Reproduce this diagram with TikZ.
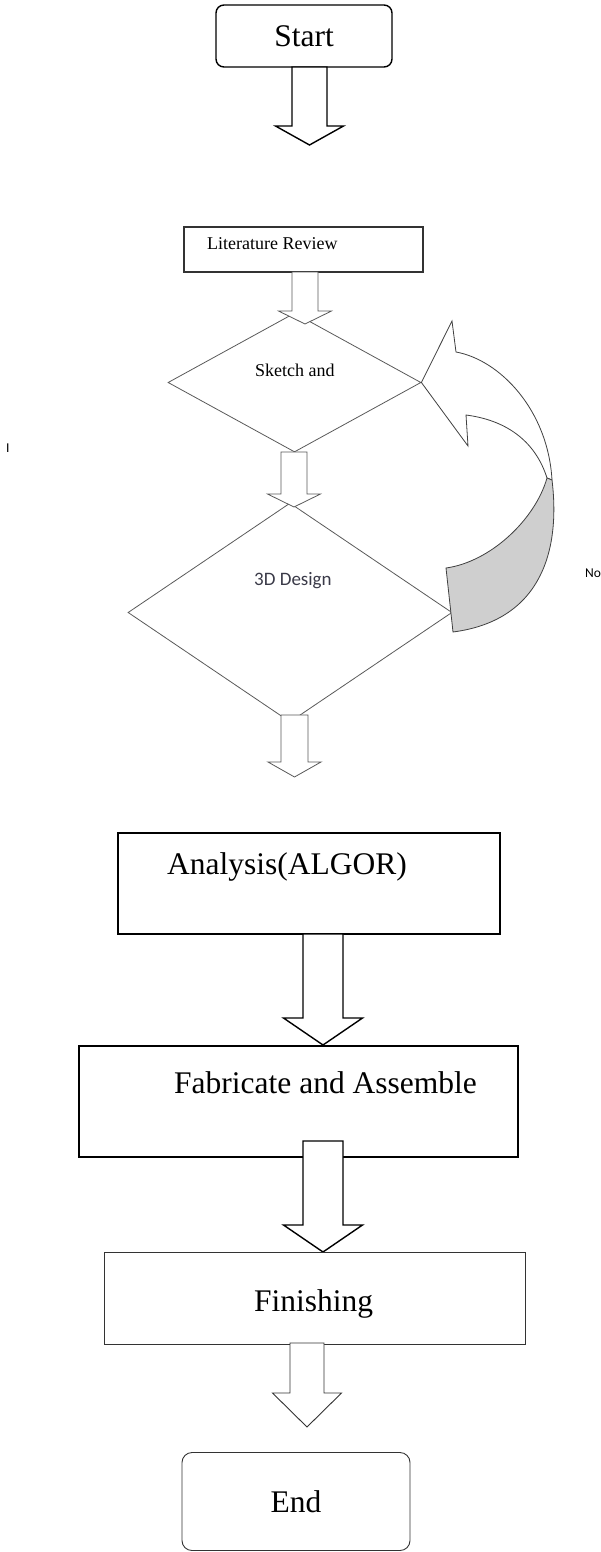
\documentclass[tikz,border=0pt]{standalone}
\usepackage{fontspec}
\setmainfont{Liberation Serif}
\newfontfamily\calibri{Carlito}
\usetikzlibrary{shapes.geometric,calc}
\definecolor{lineg}{HTML}{595959}
\definecolor{textg}{HTML}{3A3A48}

% hollow down arrow: x, top, head start, tip, half shaft, half head
\newcommand{\fatarrow}[7][]{%
  \draw[fill=white,#1] (#2-#6,#3) -- (#2+#6,#3) -- (#2+#6,#4) -- (#2+#7,#4)
    -- (#2,#5) -- (#2-#7,#4) -- (#2-#6,#4) -- cycle;}

\begin{document}
\begin{tikzpicture}[x=1pt, y=-1pt,
  bigbox/.style={draw, line width=1.4pt, inner sep=0pt},
  thinbox/.style={draw=black!80, line width=0.9pt, inner sep=0pt},
  decision/.style={diamond, draw=lineg, line width=0.8pt, inner sep=0pt},
  bigtxt/.style={font=\fontsize{31.5}{36}\selectfont, inner sep=0pt, anchor=base west},
  smalltxt/.style={font=\fontsize{18}{21}\selectfont, inner sep=0pt, anchor=base west},
  sidetxt/.style={font=\calibri\fontsize{13.5}{16}\selectfont, inner sep=0pt, anchor=base west}]

\useasboundingbox (0,0) rectangle (601,1552);

% Start e revisione
\node[bigbox, rounded corners=8pt, minimum width=176pt, minimum height=62pt,
  font=\fontsize{31.5}{36}\selectfont] (start) at (304,36) {Start};
\fatarrow[line width=1.4pt]{309.5}{67}{126}{145}{17.5}{34}

\node[thinbox, line width=1.2pt, minimum width=239pt, minimum height=45pt] (lit) at (303.5,249.5) {};
\node[smalltxt] (littxt) at (207,249) {Literature Review};

% Rombi di decisione
\node[decision, minimum width=253pt, minimum height=139pt] (sketch) at (294.5,382.5) {};
\node[smalltxt] (sketchtxt) at (255,376) {Sketch and};
\node[decision, minimum width=324pt, minimum height=219pt] (design) at (290,612.5) {};
\node[sidetxt, font=\calibri\fontsize{19}{22}\selectfont, text=textg] (designtxt) at (254,585) {3D Design};

\fatarrow[draw=lineg, line width=0.8pt]{305}{272}{311}{324}{13}{26.5}
\fatarrow[draw=lineg, line width=0.8pt]{294}{452}{494}{507}{13}{26.5}
\fatarrow[draw=lineg, line width=0.8pt]{294.5}{715}{762}{777}{13.5}{26.5}

% Freccia curva di ritorno
\draw[draw=black!75, line width=0.8pt, fill=white] (sketch.east) -- (452,321) -- (456,352)
  .. controls (500,360) and (548,410) .. (552,480) -- (547,478)
  .. controls (535,440) and (505,420) .. (466,415) -- (468,446) -- cycle;
\draw[draw=black!75, line width=0.8pt, fill=black!19] (552,480)
  .. controls (560,545) and (545,620) .. (453,632) -- (446,568)
  .. controls (490,562) and (535,520) .. (547,478) -- cycle;
\node[sidetxt] (no) at (585,577) {No};
\node[sidetxt] (mark) at (6,452) {I};

% Analisi, fabbricazione, finitura
\node[bigbox, minimum width=382pt, minimum height=101pt] (analysis) at (309,883.5) {};
\node[bigtxt] (analysistxt) at (167,874) {Analysis(ALGOR)};
\fatarrow[line width=1.4pt]{323}{934}{1018}{1045}{20}{39.5}

\node[bigbox, minimum width=439pt, minimum height=111pt] (fab) at (298.5,1101.5) {};
\node[bigtxt] (fabtxt) at (174,1093) {Fabricate and Assemble};
\fatarrow[line width=1.4pt]{323}{1141}{1225}{1252}{20}{39.5}

\node[thinbox, minimum width=421pt, minimum height=92pt] (fin) at (314.5,1298) {};
\node[bigtxt] (fintxt) at (254,1311) {Finishing};
\fatarrow[draw=black!80, line width=0.9pt]{307}{1343}{1393}{1427}{17}{34.5}

\node[thinbox, rounded corners=10pt, minimum width=228pt, minimum height=98pt,
  font=\fontsize{31.5}{36}\selectfont] (end) at (296,1501.5) {End};

\end{tikzpicture}
\end{document}
